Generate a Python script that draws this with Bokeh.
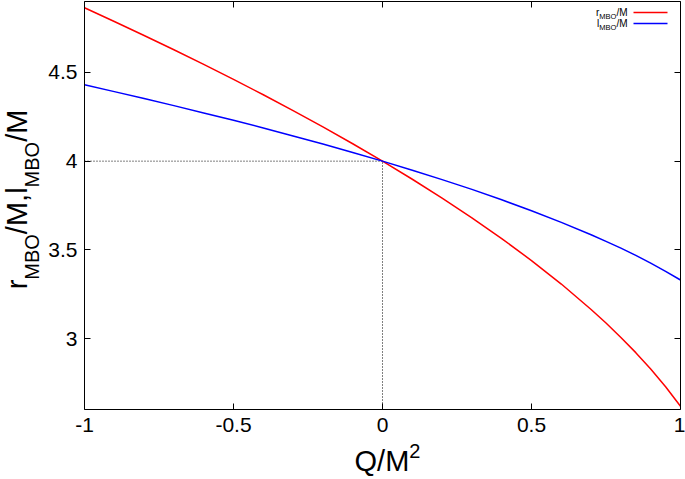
import math
from bokeh.plotting import figure
from bokeh.models import Range1d, FixedTicker, LinearAxis, Label, Arrow
from bokeh.embed import file_html
from bokeh.resources import INLINE

# ---- data ----
q = [-1.0, -0.9, -0.8, -0.7, -0.6, -0.5, -0.4, -0.3, -0.2, -0.1, 0.0,
     0.1, 0.2, 0.3, 0.4, 0.5, 0.6, 0.7, 0.75, 0.8, 0.85, 0.9, 0.95, 1.0]
r_mbo = [4.8645, 4.7874, 4.7084, 4.628, 4.5455, 4.4609, 4.3742, 4.285, 4.193, 4.0982, 4.0,
         3.898, 3.7918, 3.6806, 3.5636, 3.4397, 3.3072, 3.164, 3.0873, 3.0063, 2.9205, 2.8286, 2.7286, 2.618]
l_mbo = [4.431, 4.392, 4.353, 4.313, 4.272, 4.231, 4.187, 4.142, 4.097, 4.049, 4.0,
         3.949, 3.896, 3.841, 3.782, 3.720, 3.655, 3.585, 3.548, 3.510, 3.469, 3.425, 3.379, 3.330]
x_ticks = [-1, -0.5, 0, 0.5, 1]
x_tick_labels = ["-1", "-0.5", "0", "0.5", "1"]
y_ticks = [3, 3.5, 4, 4.5]
y_tick_labels = ["3", "3.5", "4", "4.5"]
x_lim = (-1, 1)
y_lim = (2.6, 4.9)
cross_x = 0
cross_y = 4

FONT = "Liberation Sans"
W, H = 685, 479
# pixel box of the plotting area on the canvas
BOX_L, BOX_R, BOX_T, BOX_B = 84, 680, 1, 409
sx = (BOX_R - BOX_L) / (x_lim[1] - x_lim[0])
sy = (BOX_B - BOX_T) / (y_lim[1] - y_lim[0])
xr = Range1d(x_lim[0] - BOX_L / sx, x_lim[1] + (W - BOX_R) / sx)
yr = Range1d(y_lim[0] - (H - BOX_B) / sy, y_lim[1] + BOX_T / sy)

p = figure(width=W, height=H, output_backend="svg", toolbar_location=None,
           x_range=xr, y_range=yr,
           min_border_left=0, min_border_right=0, min_border_top=0, min_border_bottom=0)
p.grid.visible = False
p.outline_line_color = None
p.background_fill_color = "white"
p.border_fill_color = "white"
p.xaxis.visible = False
p.yaxis.visible = False

def make_axis(ticks, labels, loc_value, bounds, show_labels, standoff):
    ax = LinearAxis(ticker=FixedTicker(ticks=ticks), fixed_location=loc_value, bounds=bounds,
                    major_tick_in=6, major_tick_out=0, minor_tick_in=0, minor_tick_out=0,
                    axis_line_color="black", axis_line_width=1, major_tick_line_color="black",
                    major_label_text_font=FONT, major_label_text_font_size="21px",
                    major_label_text_color="black", major_label_standoff=standoff)
    ax.major_label_overrides = {t: (l if show_labels else "") for t, l in zip(ticks, labels)}
    return ax

p.add_layout(make_axis(x_ticks, x_tick_labels, y_lim[0], x_lim, True, 8), "below")
p.add_layout(make_axis(y_ticks, y_tick_labels, x_lim[0], y_lim, True, 7), "left")
p.add_layout(make_axis(x_ticks, x_tick_labels, y_lim[1], x_lim, False, 0), "above")
p.add_layout(make_axis(y_ticks, y_tick_labels, x_lim[1], y_lim, False, 0), "right")

# reference dotted lines
p.segment(x0=[x_lim[0]], y0=[cross_y], x1=[cross_x], y1=[cross_y],
          line_color="black", line_dash="1 2", line_width=1)
p.segment(x0=[cross_x], y0=[y_lim[0]], x1=[cross_x], y1=[cross_y],
          line_color="black", line_dash="1 2", line_width=1)

p.line(q, r_mbo, line_color="#ff0000", line_width=1.5)
p.line(q, l_mbo, line_color="#0000ff", line_width=1.5)

# ---- rich text helpers ----
WID = {"r": .333, "M": .833, "B": .667, "O": .778, "/": .278, ",": .278, "l": .222,
       "Q": .778, "2": .556}
K_H, K_V = 0.31, 0.30   # empirical baseline correction (fraction of font size)

def tw(s, size):
    return sum(WID.get(c, .556) for c in s) * size

def add_rich(parts, px, py, vertical=False, color="black"):
    """px, py: canvas coords (y from top) of the baseline start."""
    pos = 0.0
    for txt, size, shift in parts:
        if vertical:
            lx, ly, ang = px + shift - K_V * size, py - pos, math.pi / 2
        else:
            lx, ly, ang = px + pos, py + shift - K_H * size, 0
        p.add_layout(Label(x=lx, y=H - ly, x_units="screen", y_units="screen", text=txt,
                           angle=ang, text_font=FONT, text_font_size=f"{size}px",
                           text_baseline="alphabetic", text_align="left", text_color=color))
        pos += tw(txt, size)

# y axis label
ys, ys2 = 29, 20
ylab = [("r", ys, 0), ("MBO", ys2, 12), ("/M,l", ys, 0), ("MBO", ys2, 12), ("/M", ys, 0)]
ytot = sum(tw(t, s) for t, s, _ in ylab)
add_rich(ylab, 25, 199 + ytot / 2, vertical=True)

# x axis label
xs, xs2 = 29, 20
xlab = [("Q/M", xs, 0), ("2", xs2, -12)]
xtot = sum(tw(t, s) for t, s, _ in xlab)
add_rich(xlab, 387 - xtot / 2, 469)

# legend
ls, ls2 = 10, 7.5
leg_rows = [("r", "#ff0000", 12), ("l", "#0000ff", 23)]
for letter, col, yy in leg_rows:
    parts = [(letter, ls, 0), ("MBO", ls2, 2.5), ("/M", ls, 0)]
    tot = sum(tw(t, s) for t, s, _ in parts)
    add_rich(parts, 627 - tot, yy + 3.5)
    p.add_layout(Arrow(x_start=633, y_start=H - yy, x_end=667, y_end=H - yy,
                       start_units="screen", end_units="screen", end=None,
                       line_color=col, line_width=1.5))

open("out.html", "w").write(file_html(p, INLINE))
